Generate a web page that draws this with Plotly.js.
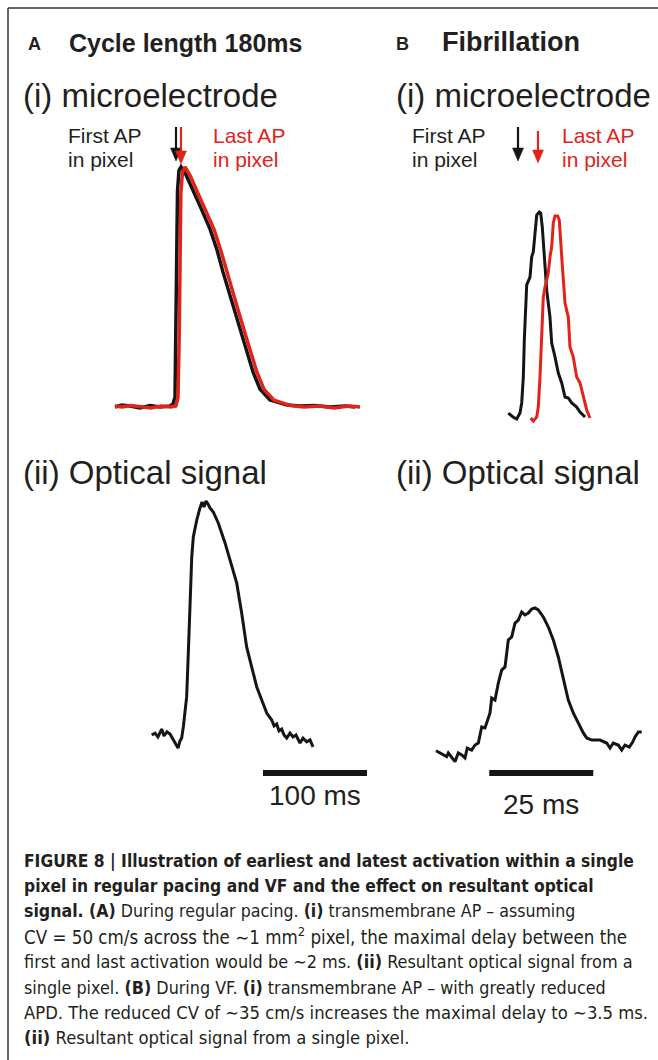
<!DOCTYPE html>
<html>
<head>
<meta charset="utf-8">
<script src="https://cdn.plot.ly/plotly-3.0.1.min.js"></script>
<style>
  html, body { margin: 0; padding: 0; background: #ffffff; }
  #chart { width: 658px; height: 1060px; }
</style>
</head>
<body>
<div id="chart"></div>
<script>
// ---------------- DATA ----------------
// Panel A (i): microelectrode APs, time in ms, amplitude normalised (0 = rest, 1 = peak)
const aFirstT = [0, 6.7, 14.4, 24.0, 33.7, 43.3, 52.9, 55.8, 57.7, 58.7, 59.1, 60.1, 61.5, 63.5, 68.3, 75.0, 81.7, 91.3, 98.1, 103.8, 113.5, 123.1, 132.7, 139.4, 149.0, 165.4, 177.9, 192.3, 206.7, 221.2, 230.8];
const aFirstV = [0, 0.008, 0.004, -0.004, 0.006, 0, 0.004, 0.0125, 0.042, 0.32, 0.65, 0.90, 0.985, 1.0, 0.967, 0.904, 0.838, 0.742, 0.654, 0.563, 0.421, 0.279, 0.146, 0.075, 0.029, 0.008, 0.004, 0.006, 0.0, 0.004, 0.0];
const aLastT  = [0, 7.0, 15.2, 24.8, 34.6, 44.2, 53.8, 58.5, 60.6, 61.8, 62.3, 63.3, 64.9, 67.3, 72.1, 78.8, 85.6, 95.2, 101.9, 107.7, 117.3, 126.9, 136.5, 143.3, 152.9, 169.2, 181.7, 196.2, 210.6, 225.0, 235.6];
const aLastV  = [0.004, 0, 0.006, 0.002, -0.004, 0.004, 0.0, 0.004, 0.04, 0.31, 0.64, 0.89, 0.98, 1.0, 0.965, 0.9, 0.835, 0.74, 0.65, 0.56, 0.42, 0.28, 0.145, 0.073, 0.028, 0.006, 0.0, 0.004, -0.004, 0.004, 0.0];

// Panel A (ii): optical signal
const aOptT = [35.3, 38.5, 41.3, 44.9, 47.1, 50.0, 52.9, 55.8, 58.7, 60.6, 62.5, 64.1, 65.7, 68.9, 70.5, 72.1, 73.8, 75.3, 78.6, 81.7, 83.7, 85.6, 87.5, 89.4, 91.3, 94.5, 99.3, 105.8, 110.6, 117.0, 121.8, 126.6, 131.4, 136.3, 141.1, 145.9, 150.7, 153.0, 155.5, 157.7, 160.3, 162.5, 165.1, 168.3, 171.2, 174.0, 177.9, 180.8, 184.3, 187.5, 190.4];
const aOptV = [0.021, 0.029, 0.013, 0.046, 0.017, 0.034, 0.025, 0.004, -0.017, -0.034, -0.004, 0.008, 0.055, 0.181, 0.366, 0.601, 0.769, 0.853, 0.924, 0.975, 1.0, 0.979, 1.004, 0.992, 0.975, 0.958, 0.912, 0.828, 0.756, 0.660, 0.534, 0.391, 0.307, 0.223, 0.168, 0.113, 0.084, 0.059, 0.067, 0.038, 0.046, 0.021, 0.008, 0.029, 0.013, 0.021, -0.013, 0.008, -0.008, 0.0, -0.029];

// Panel B (i): microelectrode APs during VF
const bFirstT = [17.38, 18.51, 19.40, 20.19, 20.60, 20.99, 21.23, 21.47, 21.80, 22.60, 23.00, 23.39, 23.80, 24.21, 24.83, 25.17, 25.55, 26.03, 26.61, 27.40, 27.81, 28.61, 29.40, 30.22, 31.01, 31.80, 32.62, 33.82, 34.62, 35.82];
const bFirstV = [0.024, 0.005, -0.005, 0.024, 0.073, 0.199, 0.379, 0.539, 0.646, 0.684, 0.782, 0.806, 0.898, 0.985, 1.0, 0.995, 0.927, 0.782, 0.621, 0.490, 0.364, 0.296, 0.218, 0.170, 0.102, 0.097, 0.073, 0.053, 0.029, 0.005];
const bLastT  = [22.76, 23.39, 24.21, 24.59, 25.00, 25.41, 25.79, 26.20, 26.99, 27.40, 27.81, 28.20, 28.61, 29.25, 29.64, 30.22, 30.60, 31.01, 31.80, 32.21, 33.00, 33.82, 34.62, 35.41, 36.23, 37.02];
const bLastV  = [0, -0.015, 0.005, 0.053, 0.199, 0.379, 0.587, 0.636, 0.704, 0.782, 0.830, 0.947, 0.981, 0.981, 0.961, 0.782, 0.655, 0.558, 0.490, 0.345, 0.296, 0.199, 0.170, 0.102, 0.039, 0];

// Panel B (ii): optical signal during VF
const bOptT = [0, 0.96, 1.75, 2.57, 2.96, 3.77, 4.57, 5.36, 6.18, 6.97, 7.52, 8.58, 9.38, 10.17, 10.99, 11.78, 12.57, 12.98, 13.39, 14.18, 14.98, 15.79, 16.59, 17.38, 18.20, 18.99, 19.78, 20.60, 21.39, 22.19, 23.00, 23.80, 24.59, 25.79, 27.00, 28.20, 29.40, 30.60, 31.80, 33.00, 34.21, 35.41, 36.23, 37.43, 39.42, 41.03, 41.83, 42.62, 43.82, 44.64, 45.43, 46.47, 47.28, 47.84, 48.63, 49.45];
const bOptV = [-0.005, -0.021, -0.035, -0.047, -0.021, -0.056, -0.082, -0.021, -0.035, -0.056, 0.014, 0, 0.035, 0.049, 0.162, 0.155, 0.225, 0.261, 0.366, 0.352, 0.472, 0.563, 0.585, 0.775, 0.796, 0.894, 0.915, 0.972, 0.951, 0.965, 0.993, 1.0, 0.986, 0.937, 0.866, 0.775, 0.655, 0.514, 0.352, 0.261, 0.190, 0.120, 0.085, 0.070, 0.070, 0.049, 0.014, 0.049, 0.035, 0, 0.035, 0.021, 0.056, 0.092, 0.127, 0.127];

// Scale bars (ms)
const scaleLabels = ["100 ms", "25 ms"];
const scaleLenMs = [100, 25];
const scaleStartMs = [142.3, 12.8];

// Text
const panelLetters = ["A", "B"];
const panelTitles = ["Cycle length 180ms", "Fibrillation"];
const subTitles = ["(i) microelectrode", "(ii) Optical signal"];
const firstLabel = ["First AP", "in pixel"];
const lastLabel = ["Last AP", "in pixel"];
const captionLines = [
  "<b>FIGURE 8 | Illustration of earliest and latest activation within a single</b>",
  "<b>pixel in regular pacing and VF and the effect on resultant optical</b>",
  "<b>signal. (A)</b> During regular pacing. <b>(i)</b> transmembrane AP – assuming",
  "CV = 50 cm/s across the ∼1 mm<sup>2</sup> pixel, the maximal delay between the",
  "first and last activation would be ∼2 ms. <b>(ii)</b> Resultant optical signal from a",
  "single pixel. <b>(B)</b> During VF. <b>(i)</b> transmembrane AP – with greatly reduced",
  "APD. The reduced CV of ∼35 cm/s increases the maximal delay to ∼3.5 ms.",
  "<b>(ii)</b> Resultant optical signal from a single pixel."
];

// ---------------- LAYOUT HELPERS ----------------
const W = 658, H = 1060;
const PX = x => x / W;
const PY = y => 1 - y / H;
const BLACK = "#151515", RED = "#e2231a", TXT = "#231f20";
const SANS = "Liberation Sans, Arial, Helvetica, sans-serif";
const NARROW = "Liberation Sans Narrow, Arial Narrow, DejaVu Sans Condensed, Roboto Condensed, Liberation Sans, sans-serif";

// x axis: px = zeroPx + t*pxPerUnit ; y axis: py = zeroPy - v*pxPerUnit
function xAxis(d0, d1, zeroPx, ppu, anchor) {
  return { domain: [PX(d0), PX(d1)], range: [(d0 - zeroPx) / ppu, (d1 - zeroPx) / ppu],
           visible: false, showgrid: false, zeroline: false, fixedrange: true, anchor: anchor };
}
function yAxis(top, bottom, zeroPy, ppu, anchor) {
  return { domain: [PY(bottom), PY(top)], range: [(zeroPy - bottom) / ppu, (zeroPy - top) / ppu],
           visible: false, showgrid: false, zeroline: false, fixedrange: true, anchor: anchor };
}

const lineStyle = (c, w) => ({ color: c, width: w, shape: "linear" });

const traces = [
  { x: aFirstT, y: aFirstV, xaxis: "x", yaxis: "y", mode: "lines", line: lineStyle(BLACK, 3.5), name: "First AP" },
  { x: aLastT, y: aLastV, xaxis: "x", yaxis: "y", mode: "lines", line: lineStyle(RED, 3.5), name: "Last AP" },
  { x: aOptT, y: aOptV, xaxis: "x2", yaxis: "y2", mode: "lines", line: lineStyle(BLACK, 3), name: "Optical A" },
  { x: bFirstT, y: bFirstV, xaxis: "x3", yaxis: "y3", mode: "lines", line: lineStyle(BLACK, 3), name: "First AP B" },
  { x: bLastT, y: bLastV, xaxis: "x3", yaxis: "y3", mode: "lines", line: lineStyle(RED, 3), name: "Last AP B" },
  { x: bOptT, y: bOptV, xaxis: "x4", yaxis: "y4", mode: "lines", line: lineStyle(BLACK, 3), name: "Optical B" }
];

function txt(text, x, y, size, opts) {
  return Object.assign({ text: text, x: PX(x), y: PY(y), xref: "paper", yref: "paper",
    xanchor: "left", yanchor: "middle", showarrow: false,
    font: { family: SANS, size: size, color: TXT } }, opts || {});
}
const redFont = { family: SANS, size: 21, color: RED };

const annotations = [
  txt("<b>" + panelLetters[0] + "</b>", 26, 44, 18),
  txt("<b>" + panelTitles[0] + "</b>", 67, 43, 25),
  txt("<b>" + panelLetters[1] + "</b>", 394, 44, 18),
  txt("<b>" + panelTitles[1] + "</b>", 440, 42, 27),
  txt(subTitles[0], 21, 95, 33),
  txt(subTitles[0], 394, 95, 33),
  txt(subTitles[1], 21, 473, 33),
  txt(subTitles[1], 394, 473, 33),
  txt(firstLabel[0], 66, 135, 21), txt(firstLabel[1], 66, 160, 21),
  txt(lastLabel[0], 211, 135, 21, { font: redFont }),
  txt(lastLabel[1], 211, 160, 21, { font: redFont }),
  txt(firstLabel[0], 410, 135, 21), txt(firstLabel[1], 410, 160, 21),
  txt(lastLabel[0], 560, 135, 21, { font: redFont }),
  txt(lastLabel[1], 560, 160, 21, { font: redFont }),
  { text: scaleLabels[0], x: scaleStartMs[0] + scaleLenMs[0] / 2, xref: "x2", y: PY(795), yref: "paper",
    xanchor: "center", yanchor: "middle", showarrow: false, font: { family: SANS, size: 28, color: TXT } },
  { text: scaleLabels[1], x: scaleStartMs[1] + scaleLenMs[1] / 2, xref: "x4", y: PY(804), yref: "paper",
    xanchor: "center", yanchor: "middle", showarrow: false, font: { family: SANS, size: 28, color: TXT } }
];
// caption: per-line size approximates the justified column of the original
const capY = [861, 886, 911, 936, 961, 987, 1012, 1037];
const capSize = [17.3, 17.3, 17.6, 18.6, 17.9, 17.8, 18.3, 18.3];
captionLines.forEach((line, i) => {
  annotations.push(txt(line, 22, capY[i], capSize[i], { font: { family: NARROW, size: capSize[i], color: TXT } }));
});

// downward arrow: shaft + filled head (pixel geometry -> paper)
function arrowShapes(x, top, tip, color) {
  const headLen = 13, halfW = 5.5;
  const base = tip - headLen;
  return [
    { type: "line", xref: "paper", yref: "paper", x0: PX(x), x1: PX(x), y0: PY(top), y1: PY(base + 1),
      line: { color: color, width: 2.2 } },
    { type: "path", xref: "paper", yref: "paper",
      path: "M" + PX(x - halfW) + "," + PY(base) + " L" + PX(x + halfW) + "," + PY(base) +
            " L" + PX(x) + "," + PY(tip) + " Z",
      fillcolor: color, line: { color: color, width: 0.5 } }
  ];
}

const shapes = [
  // frame
  { type: "line", xref: "paper", yref: "paper", x0: PX(8), x1: 1, y0: PY(8), y1: PY(8), line: { color: "#333", width: 1.5 } },
  { type: "line", xref: "paper", yref: "paper", x0: PX(8), x1: PX(8), y0: PY(8), y1: 0, line: { color: "#333", width: 1.5 } },
  // scale bars
  { type: "line", xref: "x2", yref: "paper", x0: scaleStartMs[0], x1: scaleStartMs[0] + scaleLenMs[0],
    y0: PY(773), y1: PY(773), line: { color: BLACK, width: 6 } },
  { type: "line", xref: "x4", yref: "paper", x0: scaleStartMs[1], x1: scaleStartMs[1] + scaleLenMs[1],
    y0: PY(773), y1: PY(773), line: { color: BLACK, width: 6 } }
].concat(
  arrowShapes(176, 127, 161, BLACK),
  arrowShapes(181, 127, 164, RED),
  arrowShapes(518, 127, 161, BLACK),
  arrowShapes(538, 131, 163, RED)
);

const layout = {
  width: W, height: H,
  margin: { l: 0, r: 0, t: 0, b: 0, pad: 0 },
  paper_bgcolor: "#ffffff", plot_bgcolor: "rgba(0,0,0,0)",
  showlegend: false,
  xaxis:  xAxis(100, 380, 115, 1.04, "y"),
  yaxis:  yAxis(140, 430, 407, 240, "x"),
  xaxis2: xAxis(100, 380, 115, 1.04, "y2"),
  yaxis2: yAxis(480, 830, 740, 238, "x2"),
  xaxis3: xAxis(420, 650, 436, 4.16, "y3"),
  yaxis3: yAxis(190, 430, 418, 206, "x3"),
  xaxis4: xAxis(420, 650, 436, 4.16, "y4"),
  yaxis4: yAxis(580, 830, 750, 142, "x4"),
  annotations: annotations,
  shapes: shapes
};

Plotly.newPlot("chart", traces, layout, { staticPlot: true, displayModeBar: false });
</script>
</body>
</html>
